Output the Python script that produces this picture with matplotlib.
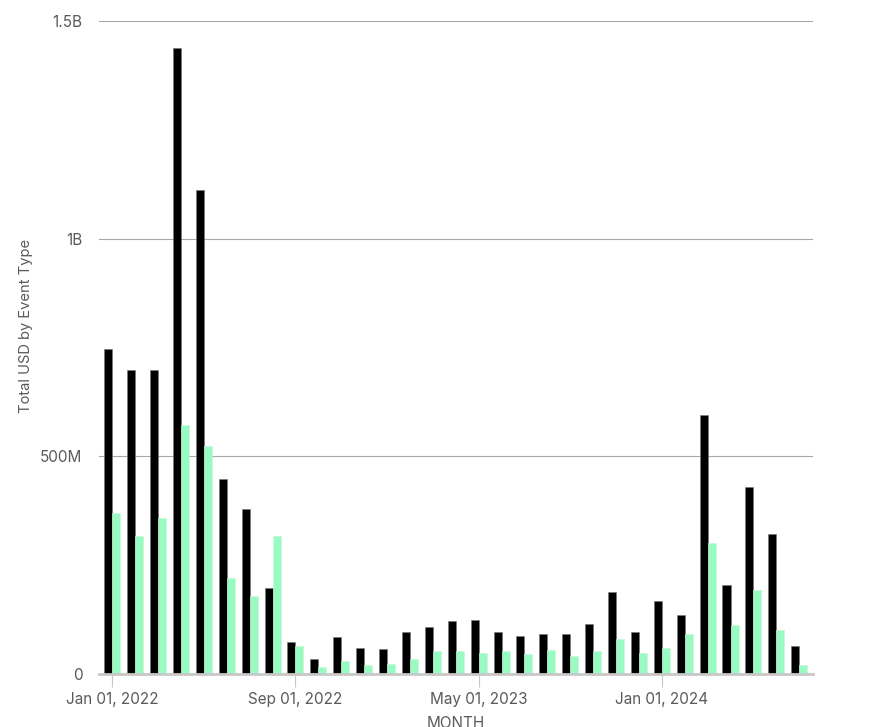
import matplotlib
matplotlib.use("Agg")
import matplotlib.pyplot as plt
import matplotlib.ticker as mticker
import numpy as np

# monthly totals in millions of USD, Jan 2022 .. Jul 2024
months = ["2022-01", "2022-02", "2022-03", "2022-04", "2022-05", "2022-06",
          "2022-07", "2022-08", "2022-09", "2022-10", "2022-11", "2022-12",
          "2023-01", "2023-02", "2023-03", "2023-04", "2023-05", "2023-06",
          "2023-07", "2023-08", "2023-09", "2023-10", "2023-11", "2023-12",
          "2024-01", "2024-02", "2024-03", "2024-04", "2024-05", "2024-06",
          "2024-07"]
series_black = [746, 699, 699, 1439, 1113, 448, 379, 197, 74, 34, 85, 60,
                57, 97, 107, 121, 124, 97, 88, 92, 92, 114, 189, 96,
                168, 135, 595, 204, 430, 322, 64]
series_green = [369, 318, 358, 573, 523, 221, 179, 318, 64, 17, 31, 20,
                24, 34, 53, 53, 49, 53, 45, 56, 41, 53, 81, 49,
                60, 92, 300, 113, 193, 100, 20]
tick_months = ["2022-01", "2022-09", "2023-05", "2024-01"]
tick_labels = ["Jan 01, 2022", "Sep 01, 2022", "May 01, 2023", "Jan 01, 2024"]

plt.rcParams['font.family'] = ['Inter', 'DejaVu Sans']

fig = plt.figure(figsize=(8.82, 7.27), dpi=100)
ax = fig.add_axes([0.1122, 0.0729, 0.8095, 0.8978])

x = np.arange(len(months))
w = 0.35
ax.bar(x - w / 2, np.array(series_black) * 1e6, width=w, color="#000000",
       edgecolor="#777777", linewidth=0.4, zorder=3)
ax.bar(x + w / 2, np.array(series_green) * 1e6, width=w, color="#98FBC2",
       edgecolor="#c8f5da", linewidth=0.4, zorder=3)

ax.set_xlim(-0.58, len(months) - 1 + 0.6)
ax.set_ylim(0, 1.5e9)

ax.set_yticks([0, 5e8, 1e9, 1.5e9])
ax.yaxis.set_major_formatter(mticker.FixedFormatter(["0", "500M", "1B", "1.5B"]))
ax.grid(axis="y", color="#a8a8a8", linewidth=0.8, zorder=0)
ax.tick_params(axis="y", length=0, pad=12, labelsize=11, labelcolor="#5a5a5a")

ax.set_xticks([months.index(m) for m in tick_months])
ax.set_xticklabels(tick_labels)
ax.tick_params(axis="x", length=9, width=0.8, color="#c8c8c8", pad=4,
               labelsize=11, labelcolor="#5a5a5a")

for s in ["top", "right", "left"]:
    ax.spines[s].set_visible(False)
ax.spines["bottom"].set_color("#c8c8c8")
ax.spines["bottom"].set_linewidth(2)
ax.spines["bottom"].set_zorder(4)

ax.set_xlabel("MONTH", fontsize=11, color="#5a5a5a")
ax.xaxis.set_label_coords(0.5, -0.064)
ax.set_ylabel("Total USD by Event Type", fontsize=10.6, color="#5a5a5a")
ax.yaxis.set_label_coords(-0.093, 0.534)

fig.savefig("out.png", dpi=100)
